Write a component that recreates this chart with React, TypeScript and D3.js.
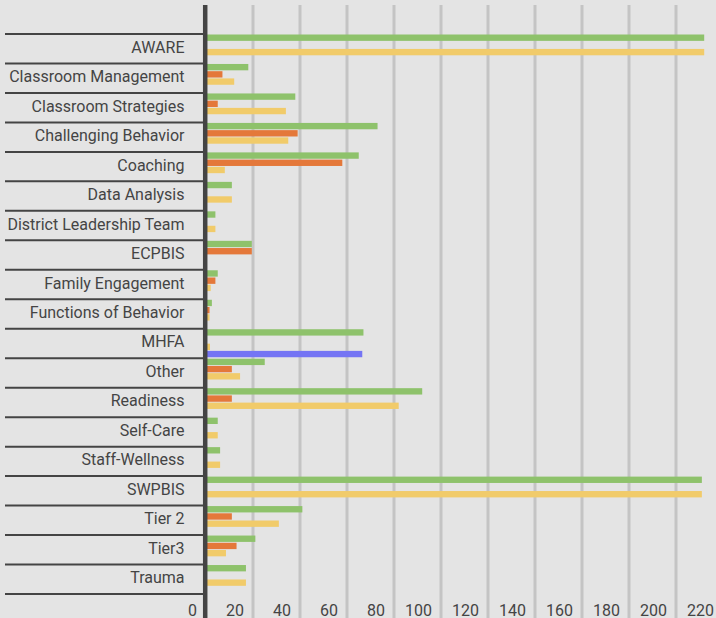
import React from "react";
import * as d3 from "d3";

const categories = [
  "AWARE",
  "Classroom Management",
  "Classroom Strategies",
  "Challenging Behavior",
  "Coaching",
  "Data Analysis",
  "District Leadership Team",
  "ECPBIS",
  "Family Engagement",
  "Functions of Behavior",
  "MHFA",
  "Other",
  "Readiness",
  "Self-Care",
  "Staff-Wellness",
  "SWPBIS",
  "Tier 2",
  "Tier3",
  "Trauma",
];

const seriesKeys = ["Series 1", "Series 2", "Series 3", "Series 4"];
const seriesColors = ["#8ec26b", "#e4783a", "#f1cb6a", "#7474f4"];

const series1 = [212, 18, 38, 73, 65, 11, 4, 19.5, 5, 2.5, 67, 25, 92, 5, 6, 211, 41, 21, 17];
const series2 = [0, 7, 5, 39, 58, 0, 0, 19.5, 4, 1.5, 0, 11, 11, 0, 0, 0, 11, 13, 0];
const series3 = [212, 12, 34, 35, 8, 11, 4, 0, 2, 1.5, 1.7, 14.5, 82, 5, 6, 211, 31, 8.5, 17];
const series4 = [0, 0, 0, 0, 0, 0, 0, 0, 0, 0, 66.5, 0, 0, 0, 0, 0, 0, 0, 0];

const tickValues = [0, 20, 40, 60, 80, 100, 120, 140, 160, 180, 200, 220];

const W = 716;
const H = 618;

export default function App() {
  const seriesData = [series1, series2, series3, series4];
  const x = d3.scaleLinear().domain([0, 220]).range([206, 723]);
  const y = d3.scaleBand<string>().domain(categories).range([34, 594]).padding(0);
  const inner = d3
    .scaleBand<string>()
    .domain(seriesKeys)
    .range([0.5, 28.5])
    .paddingInner(0.12)
    .paddingOuter(0);

  const boundaries = d3.range(categories.length + 1).map((i) => 34 + i * y.step());

  return (
    <svg
      width={W}
      height={H}
      style={{ position: "absolute", left: 0, top: 0, fontFamily: "Roboto, sans-serif" }}
    >
      <rect x={0} y={0} width={W} height={H} fill="#e4e4e4" />
      {tickValues
        .filter((v) => v > 0)
        .map((v) => (
          <line key={"g" + v} x1={x(v)} x2={x(v)} y1={5} y2={H} stroke="#c4c4c4" strokeWidth={3} />
        ))}
      {categories.map((c, i) => (
        <g key={c}>
          {seriesData.map((s, k) =>
            s[i] > 0 ? (
              <rect
                key={k}
                x={x(0)}
                y={(y(c) as number) + (inner(seriesKeys[k]) as number)}
                width={x(s[i]) - x(0)}
                height={inner.bandwidth()}
                fill={seriesColors[k]}
              />
            ) : null
          )}
          <text
            x={184.5}
            y={(y(c) as number) + y.bandwidth() / 2 + 4}
            textAnchor="end"
            fontSize={16}
            fill="#444"
          >
            {c}
          </text>
        </g>
      ))}
      {boundaries.map((b, i) => (
        <line key={"b" + i} x1={5} x2={204} y1={b} y2={b} stroke="#444" strokeWidth={2} />
      ))}
      <line x1={205.2} x2={205.2} y1={5} y2={H} stroke="#444" strokeWidth={4.5} />
      {tickValues.map((v) => (
        <text key={"t" + v} x={x(v) - 9} y={616} textAnchor="end" fontSize={16} fill="#444">
          {v}
        </text>
      ))}
    </svg>
  );
}
